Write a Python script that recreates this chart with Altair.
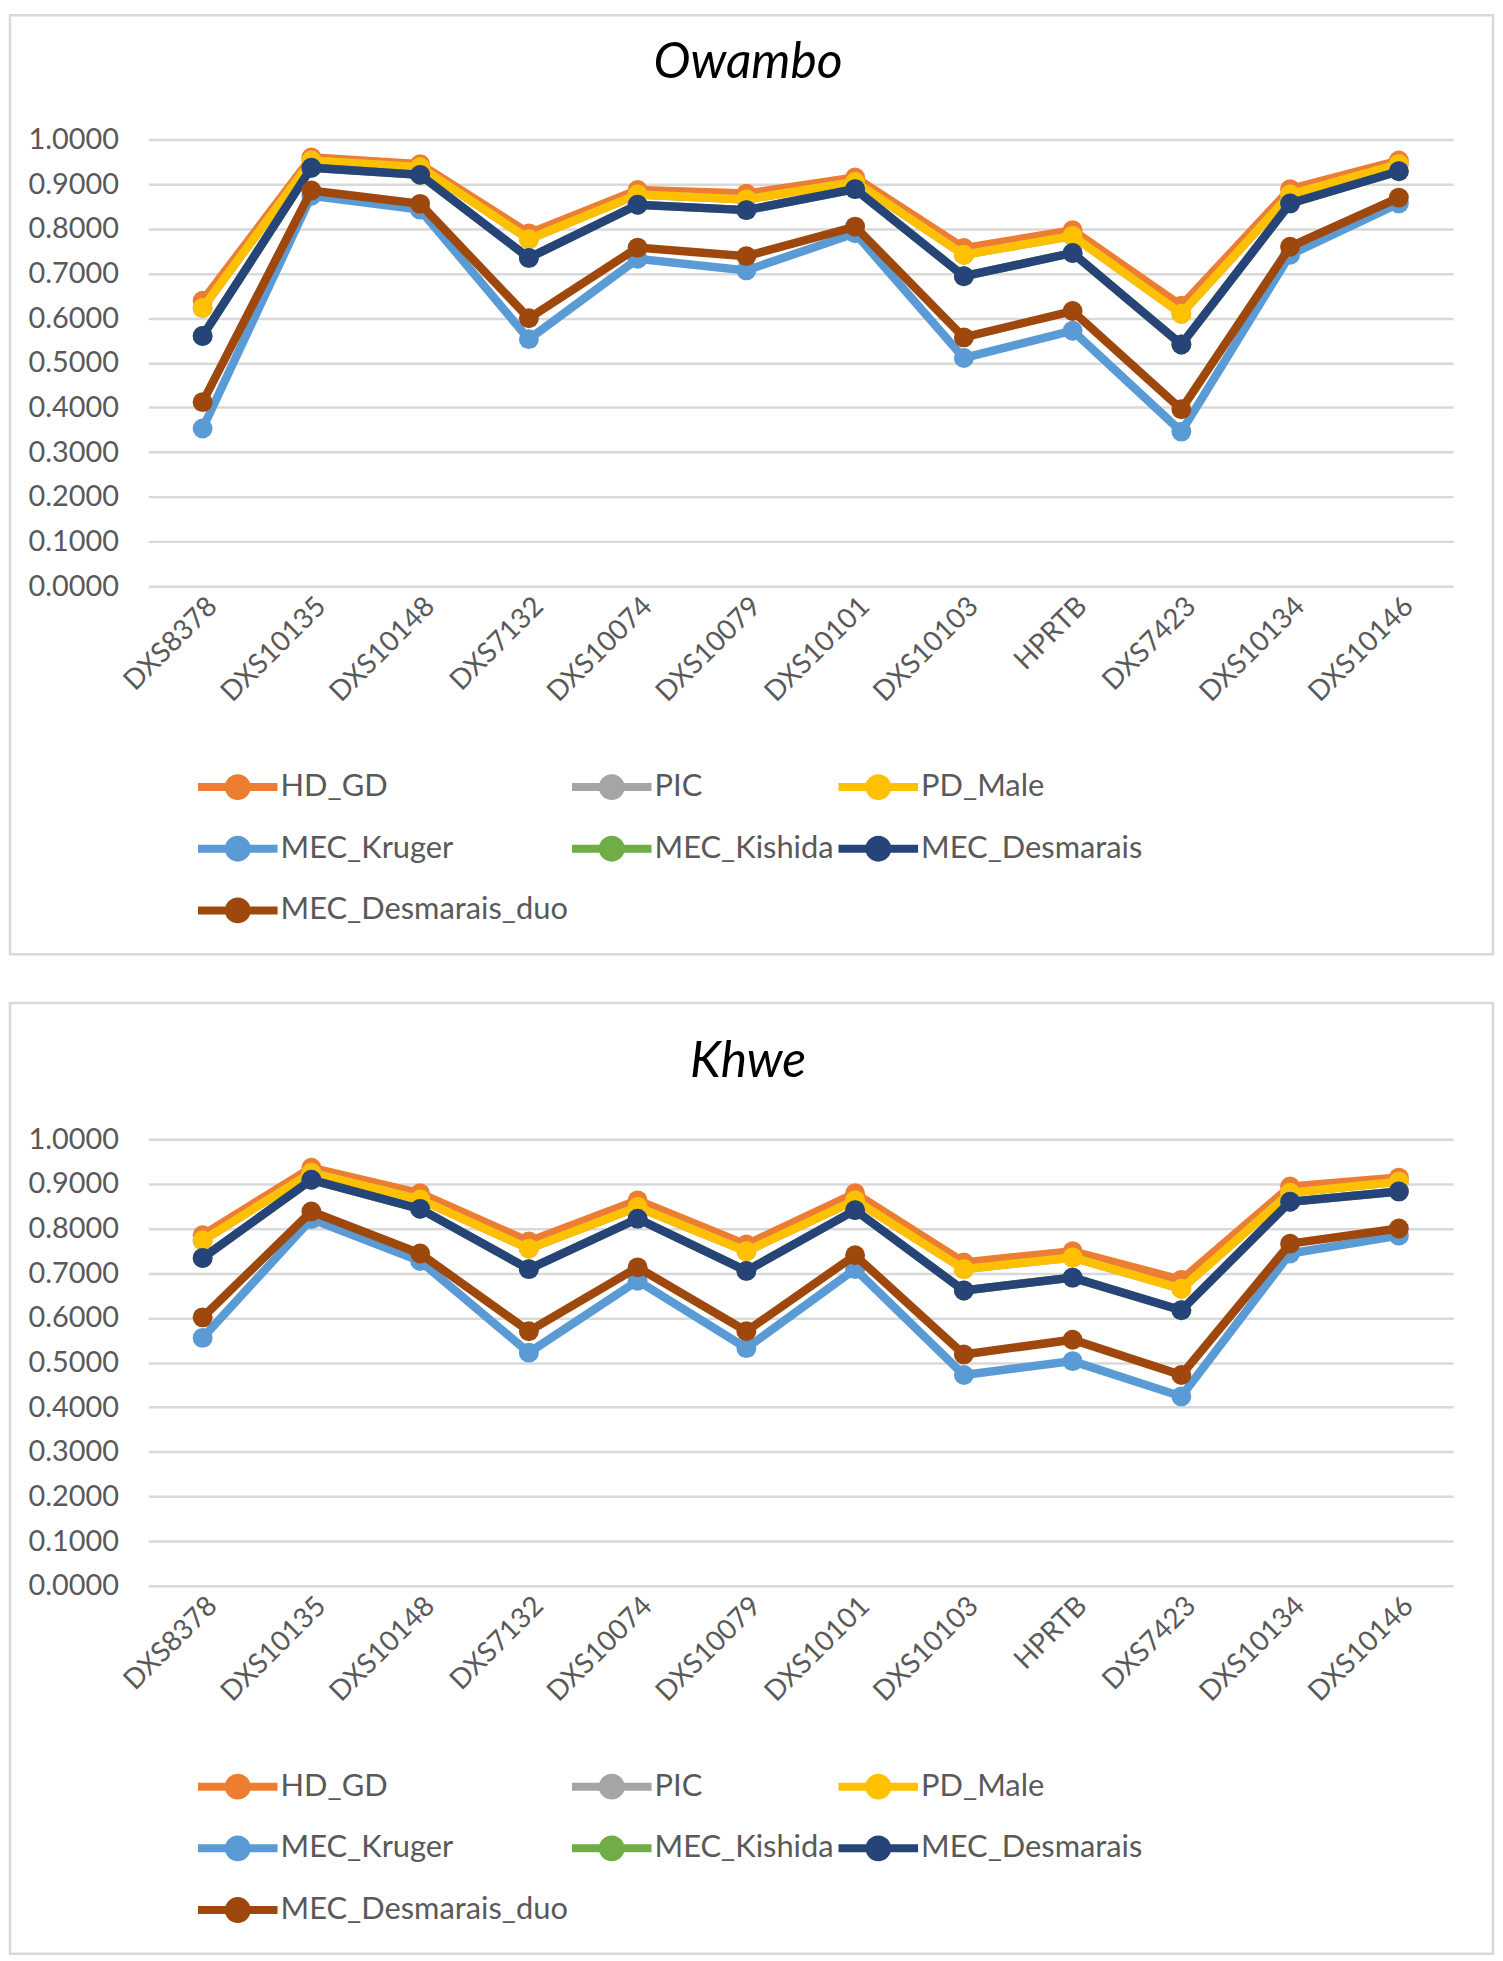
import altair as alt
import pandas as pd

markers = ["DXS8378", "DXS10135", "DXS10148", "DXS7132", "DXS10074", "DXS10079",
           "DXS10101", "DXS10103", "HPRTB", "DXS7423", "DXS10134", "DXS10146"]
series_names = ["HD_GD", "PIC", "PD_Male", "MEC_Kruger", "MEC_Kishida",
                "MEC_Desmarais", "MEC_Desmarais_duo"]
series_colors = ["#ED7D31", "#A5A5A5", "#FFC000", "#5B9BD5", "#70AD47",
                 "#264478", "#9E480E"]
y_ticks = [0.0, 0.1, 0.2, 0.3, 0.4, 0.5, 0.6, 0.7, 0.8, 0.9, 1.0]

# Owambo
owambo_hd_gd = [0.639, 0.960, 0.945, 0.790, 0.887, 0.879, 0.915, 0.757, 0.797, 0.628, 0.889, 0.953]
owambo_pic = [0.623, 0.953, 0.938, 0.777, 0.877, 0.866, 0.905, 0.742, 0.784, 0.610, 0.877, 0.945]
owambo_pd_male = [0.623, 0.953, 0.938, 0.777, 0.877, 0.866, 0.905, 0.742, 0.784, 0.610, 0.877, 0.945]
owambo_kruger = [0.353, 0.874, 0.843, 0.553, 0.733, 0.707, 0.790, 0.511, 0.572, 0.346, 0.742, 0.857]
owambo_kishida = [0.560, 0.937, 0.921, 0.735, 0.854, 0.842, 0.889, 0.694, 0.746, 0.541, 0.857, 0.929]
owambo_desmarais = [0.560, 0.937, 0.921, 0.735, 0.854, 0.842, 0.889, 0.694, 0.746, 0.541, 0.857, 0.929]
owambo_duo = [0.412, 0.886, 0.856, 0.600, 0.758, 0.739, 0.805, 0.557, 0.616, 0.396, 0.760, 0.870]

# Khwe
khwe_hd_gd = [0.785, 0.936, 0.879, 0.771, 0.863, 0.764, 0.879, 0.724, 0.749, 0.685, 0.894, 0.914]
khwe_pic = [0.773, 0.925, 0.865, 0.755, 0.848, 0.749, 0.863, 0.709, 0.735, 0.665, 0.880, 0.905]
khwe_pd_male = [0.773, 0.925, 0.865, 0.755, 0.848, 0.749, 0.863, 0.709, 0.735, 0.665, 0.880, 0.905]
khwe_kruger = [0.555, 0.821, 0.727, 0.522, 0.683, 0.532, 0.709, 0.472, 0.503, 0.424, 0.744, 0.784]
khwe_kishida = [0.734, 0.909, 0.844, 0.709, 0.822, 0.705, 0.841, 0.661, 0.690, 0.617, 0.860, 0.883]
khwe_desmarais = [0.734, 0.909, 0.844, 0.709, 0.822, 0.705, 0.841, 0.661, 0.690, 0.617, 0.860, 0.883]
khwe_duo = [0.601, 0.838, 0.744, 0.570, 0.713, 0.570, 0.740, 0.518, 0.551, 0.472, 0.766, 0.800]

FONT = "Lato"
PLOT_W = 1312
PLOT_H = 449
# line + dot legend symbol; the line reaches past the unit square
SYMBOL = "M-2,0L2,0M0.45,0A0.45,0.45,0,1,1,-0.45,0A0.45,0.45,0,1,1,0.45,0Z"


def long_frame(columns):
    rows = []
    for name, values in zip(series_names, columns):
        for marker, value in zip(markers, values):
            rows.append({"Marker": marker, "Series": name, "Value": value})
    return pd.DataFrame(rows)


def population_chart(frame, title, box_top):
    x = alt.X("Marker:N", sort=markers, title=None,
              axis=alt.Axis(labelAngle=-45, labelFont=FONT, labelFontSize=28,
                            labelColor="#595959", labelPadding=6, ticks=False,
                            domain=False, grid=False))
    y = alt.Y("Value:Q", title=None, scale=alt.Scale(domain=[0, 1], nice=False),
              axis=alt.Axis(values=y_ticks, format=".4f", labelFont=FONT,
                            labelFontSize=29, labelColor="#595959", labelPadding=30,
                            ticks=False, domain=False, gridColor="#D9D9D9",
                            gridWidth=2.5))
    color = alt.Color(
        "Series:N", title=None,
        scale=alt.Scale(domain=series_names, range=series_colors),
        legend=alt.Legend(orient="none", legendX=66, legendY=627, columns=3,
                          direction="horizontal", gridAlign="each",
                          columnPadding=-12, rowPadding=12,
                          symbolType=SYMBOL, symbolSize=1600, symbolStrokeWidth=8,
                          labelFont=FONT, labelFontSize=31, labelColor="#595959",
                          labelOffset=19, labelLimit=600, padding=0),
    )
    box = alt.Chart(pd.DataFrame({"box": [0]})).mark_rect(
        filled=False, stroke="#D9D9D9", strokeWidth=2.5
    ).encode(x=alt.value(-139), x2=alt.value(1352), y=alt.value(box_top), y2=alt.value(819))
    heading = alt.Chart(pd.DataFrame({"title": [title]})).mark_text(
        font=FONT, fontSize=50, fontStyle="italic", color="#000000",
        align="center", baseline="middle"
    ).encode(text="title:N", x=alt.value(603), y=alt.value(-77))
    layers = [box, heading]
    for name in series_names:
        layers.append(
            alt.Chart(frame).transform_filter(alt.datum.Series == name)
            .mark_line(strokeWidth=8.5,
                       point=alt.OverlayMarkDef(filled=True, size=400, opacity=1))
            .encode(x=x, y=y, color=color)
        )
    return alt.layer(*layers).properties(width=PLOT_W, height=PLOT_H)


owambo = long_frame([owambo_hd_gd, owambo_pic, owambo_pd_male, owambo_kruger,
                     owambo_kishida, owambo_desmarais, owambo_duo])
khwe = long_frame([khwe_hd_gd, khwe_pic, khwe_pd_male, khwe_kruger,
                   khwe_kishida, khwe_desmarais, khwe_duo])

chart = alt.vconcat(
    population_chart(owambo, "Owambo", -125),
    population_chart(khwe, "Khwe", -137),
    spacing=45,
).resolve_scale(color="independent").resolve_legend(color="independent").configure(
    padding=0, background="white"
).configure_view(stroke=None)

chart.save("out.html", embed_options={"renderer": "svg", "actions": False})
